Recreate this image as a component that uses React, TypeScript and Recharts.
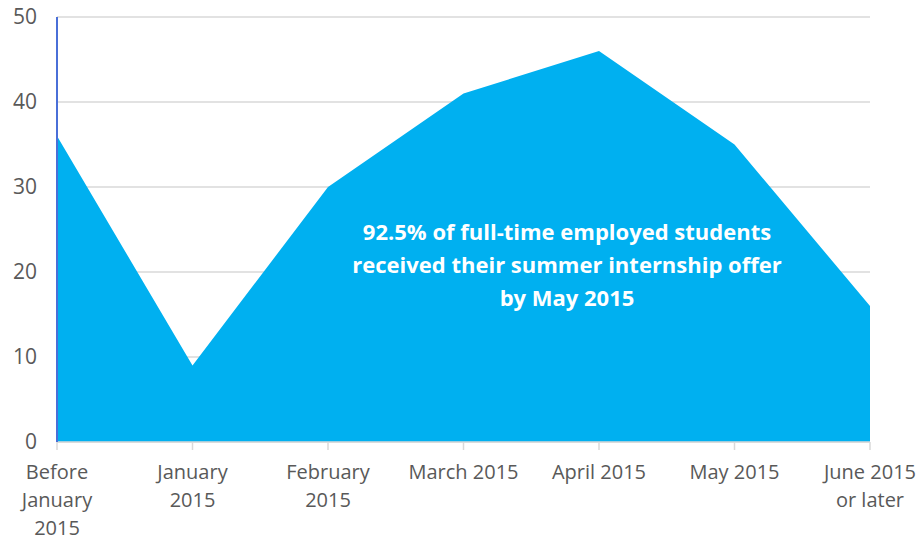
import { AreaChart, Area, XAxis, YAxis, CartesianGrid } from 'recharts'

const CATEGORIES = [
  'Before January 2015',
  'January 2015',
  'February 2015',
  'March 2015',
  'April 2015',
  'May 2015',
  'June 2015 or later',
]
const TICK_LINES = [
  ['Before', 'January', '2015'],
  ['January', '2015'],
  ['February', '2015'],
  ['March 2015'],
  ['April 2015'],
  ['May 2015'],
  ['June 2015', 'or later'],
]
const OFFERS = [36, 9, 30, 41, 46, 35, 16]
const Y_TICKS = [0, 10, 20, 30, 40, 50]
const NOTE_LINES = [
  '92.5% of full-time employed students',
  'received their summer internship offer',
  'by May 2015',
]

const data = CATEGORIES.map((name, i) => ({ name, value: OFFERS[i] }))

const FONT = '"Open Sans", sans-serif'
const TEXT = '#595959'

function XTick({ x, y, index }: any) {
  const lines = TICK_LINES[index] ?? []
  return (
    <text x={x} y={y} textAnchor="middle" fill={TEXT} fontSize={20} fontFamily={FONT}>
      {lines.map((l, i) => (
        <tspan key={i} x={x} dy={i === 0 ? 29 : 28}>{l}</tspan>
      ))}
    </text>
  )
}

export default function App() {
  return (
    <div style={{ position: 'absolute', left: 0, top: 0, width: 922, height: 542, background: '#fff' }}>
      <AreaChart width={922} height={542} data={data} margin={{ top: 17, right: 52, left: 0, bottom: 0 }}>
        <CartesianGrid vertical={false} stroke="#d9d9d9" strokeWidth={1.5} />
        <XAxis
          dataKey="name"
          height={100}
          interval={0}
          tick={<XTick />}
          tickSize={8}
          tickMargin={0}
          stroke="#d9d9d9"
          axisLine={{ stroke: '#d9d9d9', strokeWidth: 1.5 }}
          tickLine={{ stroke: '#d9d9d9', strokeWidth: 1.5 }}
        />
        <YAxis
          width={57}
          domain={[0, 50]}
          ticks={Y_TICKS}
          tickLine={false}
          tickMargin={14}
          axisLine={{ stroke: '#4a6fd8', strokeWidth: 2 }}
          tick={{ fill: TEXT, fontSize: 21, fontFamily: FONT }}
        />
        <Area
          type="linear"
          dataKey="value"
          stroke="none"
          fill="#00b0f0"
          fillOpacity={1}
          isAnimationActive={false}
        />
      </AreaChart>
      <div
        style={{
          position: 'absolute',
          left: 317,
          top: 215,
          width: 500,
          textAlign: 'center',
          color: '#fff',
          fontFamily: FONT,
          fontWeight: 700,
          fontSize: 22,
          lineHeight: '33px',
        }}
      >
        {NOTE_LINES.map((l, i) => (
          <div key={i}>{l}</div>
        ))}
      </div>
    </div>
  )
}
